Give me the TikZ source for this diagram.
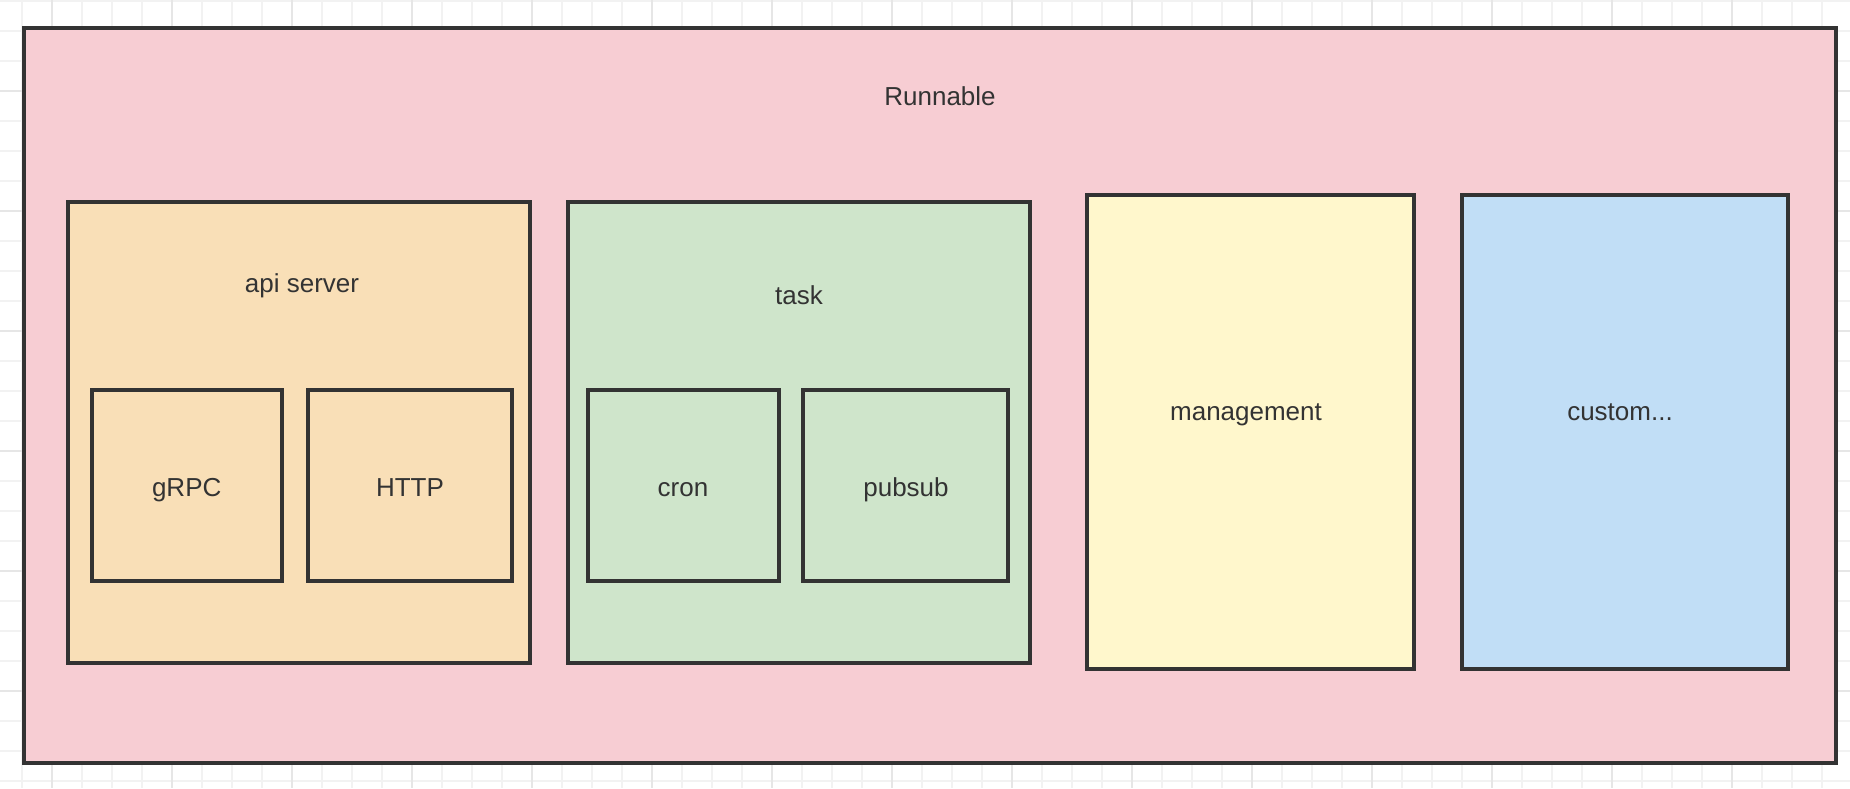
\documentclass[tikz,border=0pt]{standalone}
\usepackage{fontspec}
\setmainfont{Liberation Sans}
\definecolor{pinkc}{HTML}{F7CDD3}
\definecolor{orangec}{HTML}{F9DFB7}
\definecolor{greenc}{HTML}{CFE5CB}
\definecolor{yellowc}{HTML}{FFF7CC}
\definecolor{bluec}{HTML}{C1DEF6}
\definecolor{bordc}{HTML}{333333}
\definecolor{txtc}{HTML}{333333}
\definecolor{gridminor}{HTML}{F2F2F2}
\definecolor{gridmajor}{HTML}{E6E6E6}
\tikzset{
  box/.style={draw=bordc, line width=2pt, rectangle, inner sep=0pt},
  lbl/.style={text=txtc, font=\fontsize{13}{15}\selectfont, inner sep=0pt, anchor=base},
}
\begin{document}
\begin{tikzpicture}[x=0.5pt,y=-0.5pt]
\useasboundingbox (0,0) rectangle (1850,788);
\fill[white] (0,0) rectangle (1850,788);
% grid
\foreach \i in {0,...,61} {\draw[gridminor, line width=1pt] (21.5+30*\i,0) -- (21.5+30*\i,788);}
\foreach \i in {0,...,26} {\draw[gridminor, line width=1pt] (0,0.7+30*\i) -- (1850,0.7+30*\i);}
\foreach \i in {0,...,15} {\draw[gridmajor, line width=1pt] (51.5+120*\i,0) -- (51.5+120*\i,788);}
\foreach \i in {0,...,6} {\draw[gridmajor, line width=1pt] (0,90.7+120*\i) -- (1850,90.7+120*\i);}
% outer
\node[box, fill=pinkc, minimum width=906pt, minimum height=367.5pt] (outer) at (930,395.5) {};
\node[lbl] (runnable) at (940,105.7) {Runnable};
% api server
\node[box, fill=orangec, minimum width=231.25pt, minimum height=230.65pt] (api) at (298.75,432.35) {};
\node[lbl] (apilbl) at (302,292.7) {api server};
\node[box, fill=orangec, minimum width=95.15pt, minimum height=95.65pt] (grpc) at (186.85,485.65) {};
\node[lbl] (grpclbl) at (186.7,496.7) {gRPC};
\node[box, fill=orangec, minimum width=102.15pt, minimum height=95.65pt] (http) at (409.85,485.65) {};
\node[lbl] (httplbl) at (410,496.7) {HTTP};
% task
\node[box, fill=greenc, minimum width=231.25pt, minimum height=230.65pt] (task) at (798.75,432.35) {};
\node[lbl] (tasklbl) at (799,304) {task};
\node[box, fill=greenc, minimum width=95.6pt, minimum height=95.65pt] (cron) at (683.1,485.65) {};
\node[lbl] (cronlbl) at (683,496.7) {cron};
\node[box, fill=greenc, minimum width=102.05pt, minimum height=95.65pt] (pubsub) at (905.45,485.65) {};
\node[lbl] (pubsublbl) at (906,496.7) {pubsub};
% management
\node[box, fill=yellowc, minimum width=163.5pt, minimum height=237.3pt] (mgmt) at (1250.1,432) {};
\node[lbl] (mgmtlbl) at (1246,420.7) {management};
% custom
\node[box, fill=bluec, minimum width=163.15pt, minimum height=237.3pt] (custom) at (1625.15,432) {};
\node[lbl] (customlbl) at (1620,420.7) {custom...};
\end{tikzpicture}
\end{document}
